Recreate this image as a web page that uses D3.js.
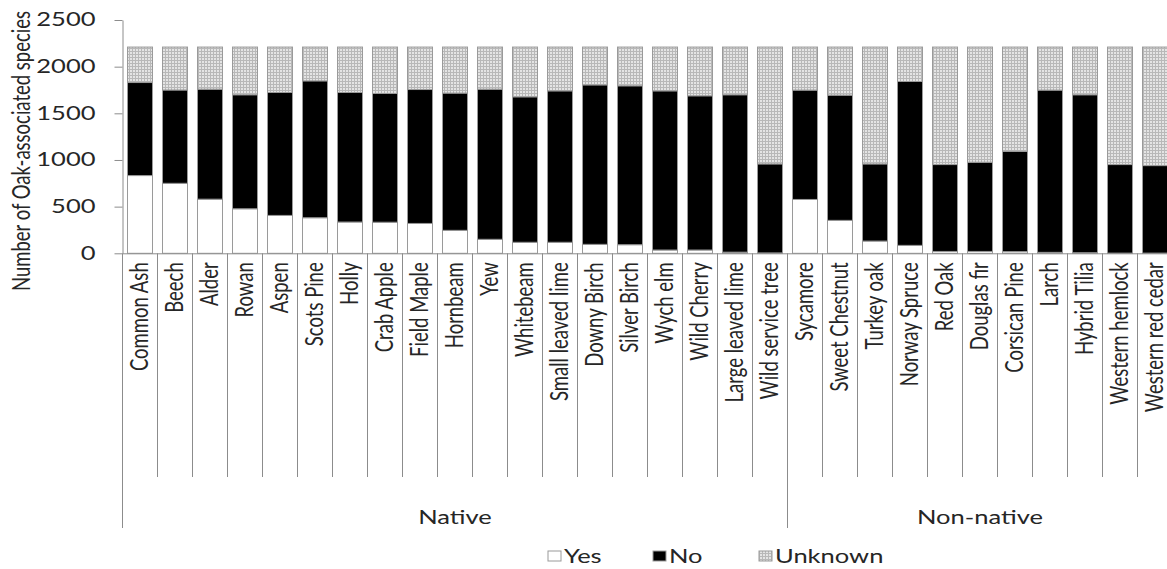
<!DOCTYPE html>
<html>
<head>
<meta charset="utf-8">
<script src="https://cdn.jsdelivr.net/npm/d3@7"></script>
<style>
  html, body { margin: 0; padding: 0; background: #fff; overflow: hidden; }
  svg { display: block; font-family: Lato, "Open Sans", sans-serif; }
</style>
</head>
<body>
<svg id="chart" width="1167" height="569"></svg>
<script>
// Tree species, in display order
const categories = [
  "Common Ash", "Beech", "Alder", "Rowan", "Aspen", "Scots Pine", "Holly",
  "Crab Apple", "Field Maple", "Hornbeam", "Yew", "Whitebeam",
  "Small leaved lime", "Downy Birch", "Silver Birch", "Wych elm",
  "Wild Cherry", "Large leaved lime", "Wild service tree",
  "Sycamore", "Sweet Chestnut", "Turkey oak", "Norway Spruce", "Red Oak",
  "Douglas fir", "Corsican Pine", "Larch", "Hybrid Tilia",
  "Western hemlock", "Western red cedar"
];

// Groups of consecutive categories
const groupNames = ["Native", "Non-native"];
const groupSizes = [19, 11];

// Number of oak-associated species using each tree: Yes / No / Unknown
const yesValues = [833, 750, 580, 477, 406, 381, 335, 333, 320, 246, 150, 118,
  118, 96, 92, 35, 35, 12, 4, 577, 353, 131, 85, 20, 20, 18, 10, 6, 2, 2];
const noValues = [997, 1000, 1179, 1222, 1317, 1467, 1388, 1380, 1435, 1471,
  1609, 1559, 1623, 1709, 1703, 1706, 1653, 1687, 954, 1172, 1342, 827, 1756,
  931, 956, 1075, 1739, 1693, 949, 938];
const unknownValues = [380, 460, 451, 511, 487, 362, 487, 497, 455, 493, 451,
  533, 469, 405, 415, 469, 522, 511, 1252, 461, 515, 1252, 369, 1259, 1234,
  1117, 461, 511, 1259, 1270];

const seriesKeys = ["Yes", "No", "Unknown"];
const yTicks = [0, 500, 1000, 1500, 2000, 2500];

const rows = categories.map((c, i) => ({
  category: c, Yes: yesValues[i], No: noValues[i], Unknown: unknownValues[i]
}));

const svg = d3.select("#chart");
const textColor = "#262626";
const axisColor = "#8c8c8c";
const sx = 1.38;               // horizontal text stretch
const fontSize = 18.5;

// Grid-textured light grey fill for the Unknown segment
const defs = svg.append("defs");
const pat = defs.append("pattern")
  .attr("id", "gridFill").attr("patternUnits", "userSpaceOnUse")
  .attr("width", 3).attr("height", 3);
pat.append("rect").attr("width", 3).attr("height", 3).attr("fill", "#e4e4e4");
pat.append("path").attr("d", "M0,0.5H3M0.5,0V3")
  .attr("stroke", "#b8b8b8").attr("stroke-width", 1);

const fills = { Yes: "#ffffff", No: "#000000", Unknown: "url(#gridFill)" };

const left = 122.5, step = 35;
const x = d3.scaleBand()
  .domain(categories)
  .range([left, left + step * categories.length])
  .paddingInner(10 / 35).paddingOuter(5 / 35);

const y = d3.scaleLinear().domain([0, 2500]).range([253.3, 20]);

const stacked = d3.stack().keys(seriesKeys)(rows);

// Bars
svg.append("g").selectAll("g")
  .data(stacked).join("g")
  .attr("fill", d => fills[d.key])
  .selectAll("rect")
  .data(d => d).join("rect")
  .attr("x", d => x(d.data.category))
  .attr("width", x.bandwidth())
  .attr("y", d => y(d[1]))
  .attr("height", d => y(d[0]) - y(d[1]))
  .attr("stroke", "#9a9a9a")
  .attr("stroke-width", 1);

// Y axis
const yAxis = svg.append("g")
  .attr("transform", `translate(${left},0)`)
  .call(d3.axisLeft(y).tickValues(yTicks).tickFormat(d3.format("d"))
    .tickSize(8).tickSizeOuter(0));
yAxis.select(".domain").attr("stroke", axisColor);
yAxis.selectAll(".tick line").attr("stroke", axisColor);
yAxis.selectAll(".tick text")
  .attr("x", 0)
  .attr("transform", `translate(-27,0) scale(${sx},1)`)
  .attr("fill", textColor)
  .style("font-size", fontSize + "px")
  .style("font-family", "Lato, sans-serif");

// Extend the y axis line down past the category labels
const baseY = y(0);
svg.append("line")
  .attr("x1", left).attr("x2", left)
  .attr("y1", baseY).attr("y2", 528)
  .attr("stroke", axisColor);

// Category axis
const xAxis = svg.append("g")
  .attr("transform", `translate(0,${baseY})`)
  .call(d3.axisBottom(x).tickSize(0).tickSizeOuter(0));
xAxis.select(".domain").attr("stroke", axisColor);
xAxis.selectAll(".tick text")
  .attr("x", 0).attr("y", 0).attr("dy", "0.3em")
  .attr("text-anchor", "end")
  .attr("transform", `translate(0,9) scale(${sx},1) rotate(-90)`)
  .attr("fill", textColor)
  .style("font-size", fontSize + "px")
  .style("font-family", "Lato, sans-serif");

// Category and group dividers
const groupStarts = [];
let acc = 0;
groupSizes.forEach(n => { groupStarts.push(acc); acc += n; });
const bandEdge = i => left + i * x.step();
const dividers = d3.range(1, categories.length + 1);
svg.append("g").selectAll("line")
  .data(dividers).join("line")
  .attr("x1", bandEdge).attr("x2", bandEdge)
  .attr("y1", baseY)
  .attr("y2", i => (groupStarts.includes(i) || i === categories.length) ? 528 : 477)
  .attr("stroke", axisColor);

// Group labels
svg.append("g").selectAll("text")
  .data(groupNames).join("text")
  .attr("transform", (g, k) => {
    const cx = (bandEdge(groupStarts[k]) + bandEdge(groupStarts[k] + groupSizes[k])) / 2;
    return `translate(${cx},524) scale(${sx},1)`;
  })
  .attr("text-anchor", "middle")
  .attr("fill", textColor)
  .style("font-size", fontSize + "px")
  .text(d => d);

// Y axis title
svg.append("text")
  .attr("transform", `translate(21,151) scale(${sx},1) rotate(-90)`)
  .attr("text-anchor", "middle")
  .attr("dy", "0.36em")
  .attr("fill", textColor)
  .style("font-size", fontSize + "px")
  .text("Number of Oak-associated species");

// Legend
const legendX = [548, 653, 759];
const legend = svg.append("g").selectAll("g")
  .data(seriesKeys).join("g")
  .attr("transform", (d, i) => `translate(${legendX[i]},556)`);
legend.append("rect")
  .attr("x", 0).attr("y", -5)
  .attr("width", 13).attr("height", 10)
  .attr("fill", d => fills[d])
  .attr("stroke", "#9a9a9a");
legend.append("text")
  .attr("transform", `translate(16,0) scale(${sx},1)`)
  .attr("dy", "0.36em")
  .attr("fill", textColor)
  .style("font-size", fontSize + "px")
  .text(d => d);
</script>
</body>
</html>
